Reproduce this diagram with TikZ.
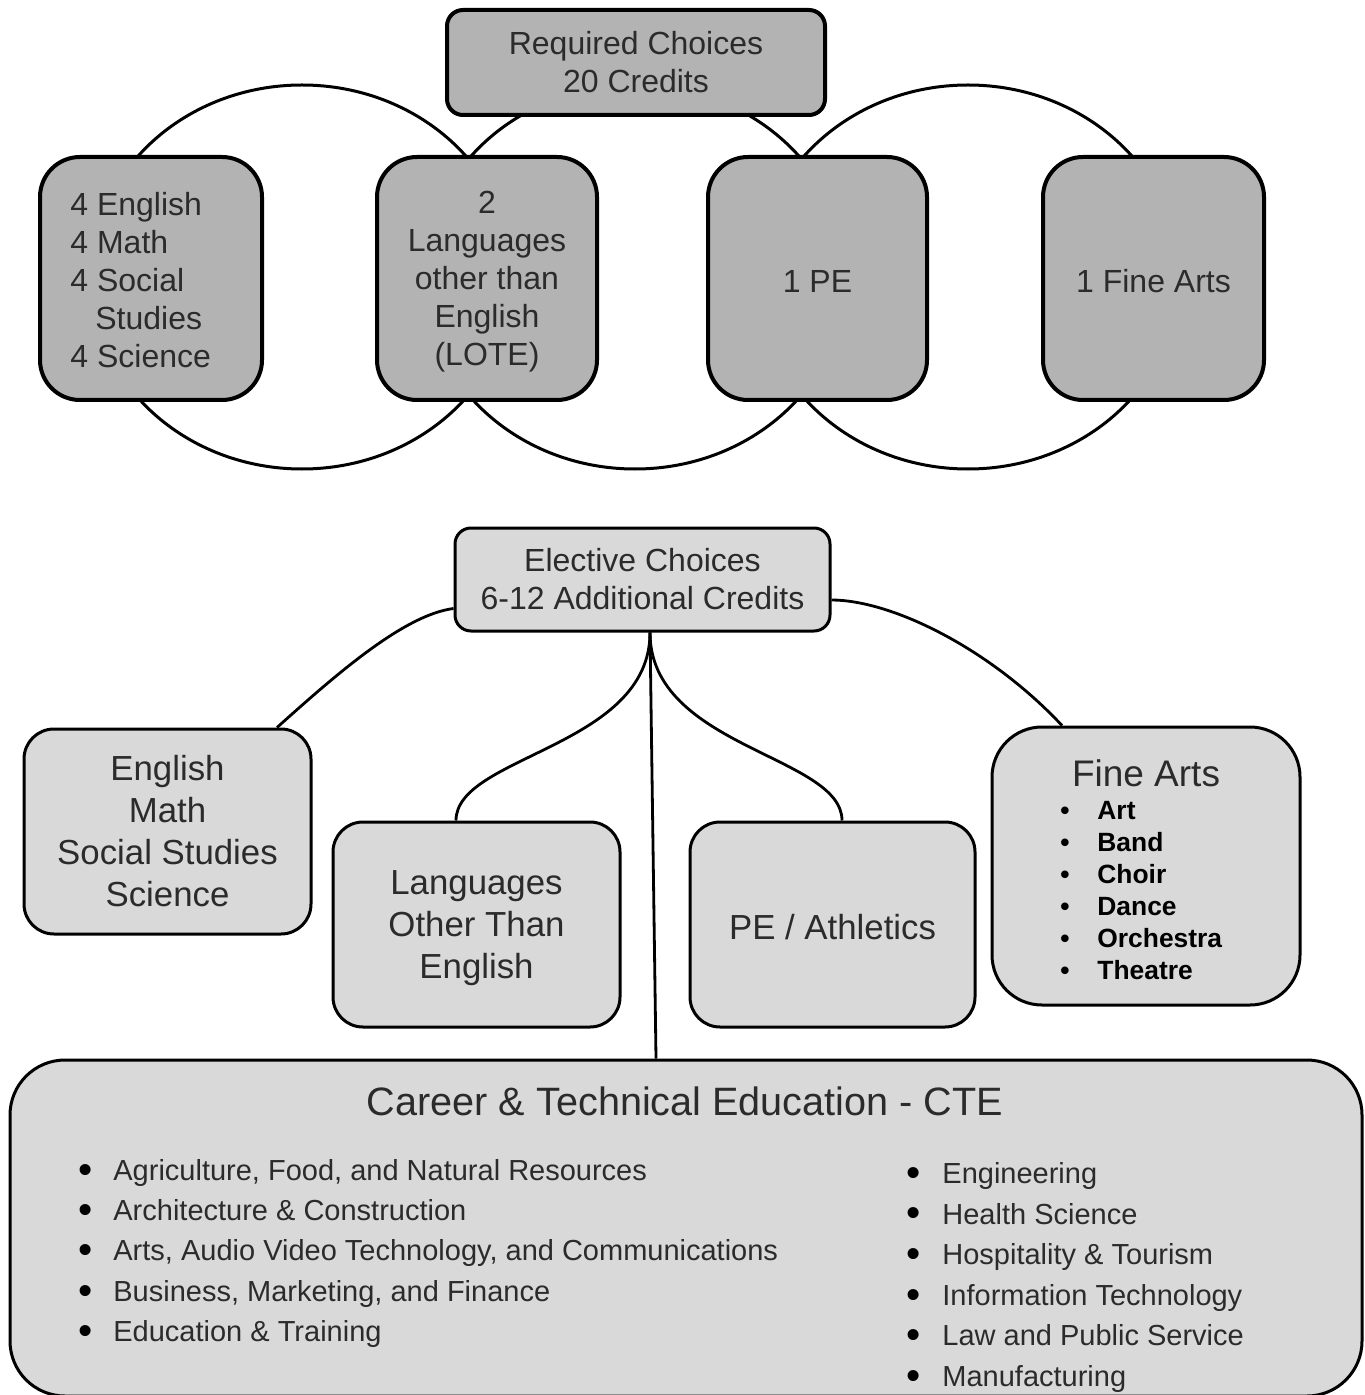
\documentclass[tikz,border=0pt]{standalone}
\usepackage{fontspec}
\setmainfont{Liberation Sans}
\usetikzlibrary{shapes.geometric,calc}
\definecolor{topfill}{HTML}{B3B3B3}
\definecolor{botfill}{HTML}{D9D9D9}
\definecolor{ink}{HTML}{2B2B2B}
\newcommand{\mybul}[1]{\makebox[#1][l]{\hspace*{-1pt}\color{black}\smash{\raisebox{-0.1em}{\scalebox{1.4}{\textbullet}}}}}
\newcommand{\fabul}[1]{\makebox[#1][l]{\color{black}\textbullet}}
\begin{document}
\begin{tikzpicture}[x=0.5pt,y=-0.5pt,
  ring/.style={draw=black, line width=1.5pt, ellipse, inner sep=0pt, minimum width=211pt, minimum height=192pt},
  topbox/.style={draw=black, line width=2pt, fill=topfill, rounded corners=20pt, inner sep=0pt, text=ink, align=center, font=\fontsize{16}{19}\selectfont},
  botbox/.style={draw=black, line width=1.5pt, fill=botfill, rounded corners=15pt, inner sep=0pt, text=ink, align=center, font=\fontsize{17.4}{21}\selectfont},
  link/.style={draw=black, line width=1.4pt},
  listtxt/.style={anchor=base west, inner sep=0pt, text=ink, font=\fontsize{14.5}{18}\selectfont},
  fatxt/.style={anchor=base west, inner sep=0pt, text=black, font=\fontsize{13.2}{16}\selectfont\bfseries},
]
\useasboundingbox (0,0) rectangle (1364,1395);

% rings behind required boxes
\node[ring] (ring1) at (302,277) {};
\node[ring] (ring2) at (635,277) {};
\node[ring] (ring3) at (968,277) {};

% required choices
\node[topbox, rounded corners=8pt, minimum width=189pt, minimum height=52.5pt] (req) at (636,62.5) {Required Choices\\20 Credits};
\node[topbox, minimum width=111pt, minimum height=121.5pt] (t1) at (151,278.5) {};
\node[anchor=west, inner sep=0pt, text=ink, align=left, font=\fontsize{16}{19}\selectfont] (t1txt) at (70,280) {4 English\\4 Math\\4 Social\\\hspace*{12.5pt}Studies\\4 Science};
\node[topbox, minimum width=110pt, minimum height=121.5pt] (t2) at (487,278.5) {};
\node[inner sep=0pt, text=ink, align=center, font=\fontsize{16}{19}\selectfont] (t2txt) at (487,282) {2\\Languages\\other than\\English\\(LOTE)};
\node[topbox, minimum width=109.5pt, minimum height=121.5pt] (t3) at (817.5,278.5) {};
\node[inner sep=0pt, text=ink, font=\fontsize{16}{19}\selectfont] (t3txt) at (817.5,281) {1 PE};
\node[topbox, minimum width=110.5pt, minimum height=121.5pt] (t4) at (1153.5,278.5) {};
\node[inner sep=0pt, text=ink, font=\fontsize{16}{19}\selectfont] (t4txt) at (1153.5,281) {1 Fine Arts};

% elective choices
\node[botbox, rounded corners=8pt, font=\fontsize{16}{19}\selectfont, minimum width=187.5pt, minimum height=51.5pt] (elec) at (642.5,579.5) {Elective Choices\\6-12 Additional Credits};
\node[botbox, minimum width=143.5pt, minimum height=102.5pt] (eng) at (167.5,831.5) {English\\Math\\Social Studies\\Science};
\node[botbox, minimum width=143.5pt, minimum height=102.5pt] (lang) at (476.5,924.5) {};
\node[inner sep=0pt, text=ink, align=center, font=\fontsize{17.4}{21}\selectfont] (langtxt) at (476.5,928) {Languages\\Other Than\\English};
\node[botbox, minimum width=142.5pt, minimum height=102.5pt] (pe) at (832.5,924.5) {};
\node[inner sep=0pt, text=ink, font=\fontsize{17.4}{21}\selectfont] (petxt) at (832.5,927) {PE / Athletics};
\node[botbox, rounded corners=25pt, minimum width=154pt, minimum height=139pt] (fa) at (1146,866) {};
\node[botbox, rounded corners=27.5pt, minimum width=676pt, minimum height=168pt] (cte) at (686,1228) {};

% fine arts content
\node[inner sep=0pt, text=ink, font=\fontsize{18.5}{21}\selectfont] (fatitle) at (1146,773) {Fine Arts};
\foreach \t [count=\i] in {Art,Band,Choir,Dance,Orchestra,Theatre}
  \node[fatxt] (fa\i) at (1060,819.5+31.9*\i-31.9) {\fabul{18.5pt}\t};

% CTE content
\node[inner sep=0pt, text=ink, font=\fontsize{19.8}{23}\selectfont] (ctetitle) at (685,1101) {Career \& Technical Education - CTE};
\foreach \t [count=\i] in {{Agriculture, Food, and Natural Resources},{Architecture \& Construction},{Arts, Audio Video Technology, and Communications},{Business, Marketing, and Finance},{Education \& Training}}
  \node[listtxt] (cl\i) at (80,1180.4+40.25*\i-40.25) {\mybul{16.5pt}\t};
\foreach \t [count=\i] in {Engineering,Health Science,{Hospitality \& Tourism},Information Technology,Law and Public Service,Manufacturing}
  \node[listtxt] (cr\i) at (908,1183.4+40.6*\i-40.6) {\mybul{17pt}\t};

% connectors
\draw[link] ($(elec.west)+(0,29)$) .. controls +(-50,6.5) and +(58,-52) .. ($(eng.north)+(109.5,0)$);
\draw[link] ($(elec.east)+(0,20.5)$) .. controls +(60,0) and +(-72,-77) .. ($(fa.north)+(-84,0)$);
\draw[link] ($(elec.south)+(7.5,0)$) .. controls +(0,115) and +(0,-65) .. ($(lang.north)+(-20.5,0)$);
\draw[link] ($(elec.south)+(7.5,0)$) .. controls +(0,115) and +(0,-65) .. ($(pe.north)+(9.5,0)$);
\draw[link] ($(elec.south)+(7.5,0)$) -- ($(cte.north)+(-30,0)$);
\end{tikzpicture}
\end{document}
